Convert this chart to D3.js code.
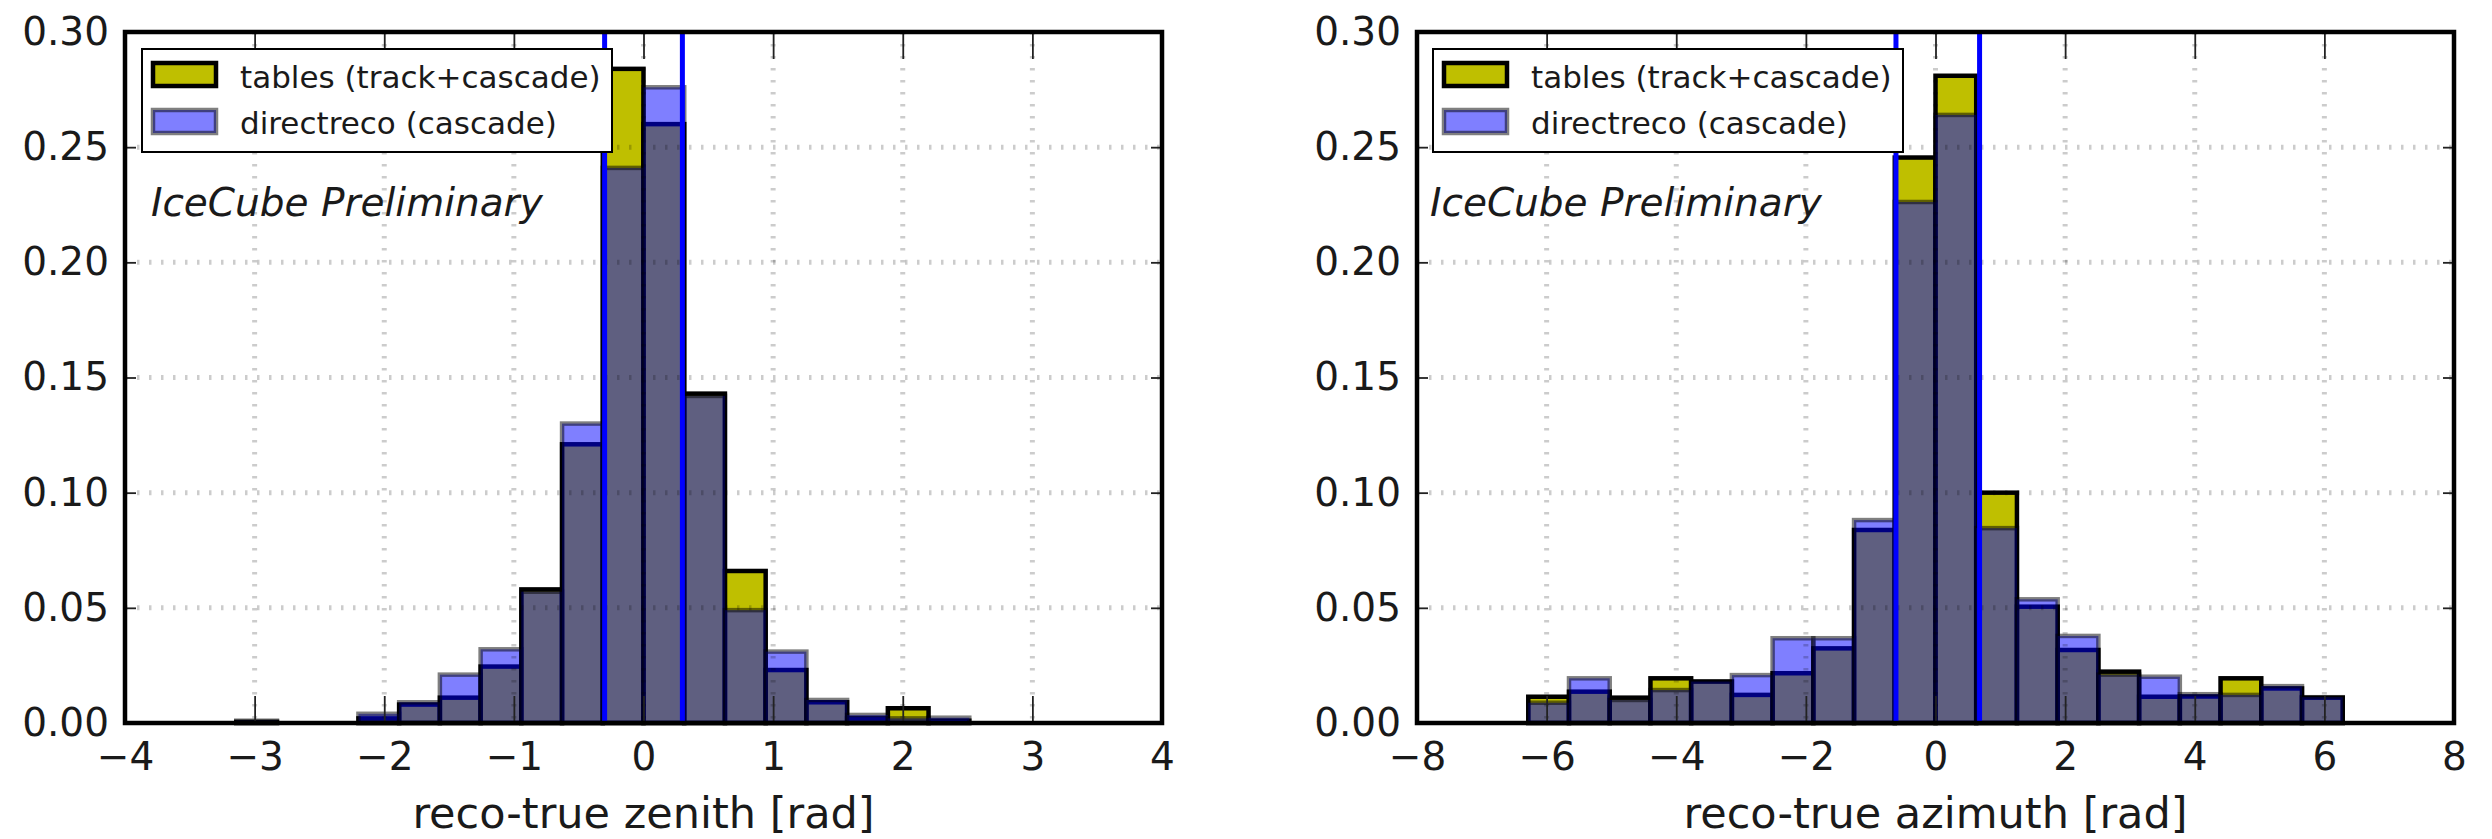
<!DOCTYPE html>
<html>
<head>
<meta charset="utf-8">
<script src="https://cdnjs.cloudflare.com/ajax/libs/d3/7.8.5/d3.min.js"></script>
<style>
  html, body { margin: 0; padding: 0; background: #fff; }
  svg { display: block; font-family: 'DejaVu Sans', sans-serif; }
</style>
</head>
<body>
<div id="chart"></div>
<script>
// bin edges (rad)
const zenithEdges = [-3.1416, -2.8274, -2.5133, -2.1991, -1.8850, -1.5708, -1.2566, -0.9425, -0.6283, -0.3142,
  0, 0.3142, 0.6283, 0.9425, 1.2566, 1.5708, 1.8850, 2.1991, 2.5133, 2.8274, 3.1416];
const zenithTables = [0.0005, 0, 0, 0.002, 0.008, 0.011, 0.0245, 0.058, 0.121, 0.284,
  0.260, 0.143, 0.066, 0.023, 0.009, 0.002, 0.0064, 0.001, 0, 0];
const zenithDirectreco = [0.001, 0, 0, 0.004, 0.009, 0.021, 0.032, 0.057, 0.130, 0.241,
  0.276, 0.142, 0.049, 0.031, 0.010, 0.0035, 0.002, 0.0023, 0, 0];
const zenithLines = [-0.30, 0.30];
const zenithTicks = [-4, -3, -2, -1, 0, 1, 2, 3, 4];

const azimuthEdges = [-6.2832, -5.6549, -5.0265, -4.3982, -3.7699, -3.1416, -2.5133, -1.8850, -1.2566, -0.6283,
  0, 0.6283, 1.2566, 1.8850, 2.5133, 3.1416, 3.7699, 4.3982, 5.0265, 5.6549, 6.2832];
const azimuthTables = [0.0114, 0.0136, 0.011, 0.0194, 0.018, 0.0122, 0.0216, 0.0324, 0.0838, 0.2455,
  0.281, 0.100, 0.0505, 0.0317, 0.0223, 0.0114, 0.0115, 0.0194, 0.015, 0.011];
const azimuthDirectreco = [0.0088, 0.0194, 0.010, 0.0143, 0.018, 0.0208, 0.0368, 0.0368, 0.0881, 0.2262,
  0.264, 0.0846, 0.0537, 0.0378, 0.021, 0.0201, 0.0125, 0.0122, 0.016, 0.0112];
const azimuthLines = [-0.61, 0.68];
const azimuthTicks = [-8, -6, -4, -2, 0, 2, 4, 6, 8];

const yTicks = [0, 0.05, 0.10, 0.15, 0.20, 0.25, 0.30];
const legendLabels = ['tables (track+cascade)', 'directreco (cascade)'];
const watermark = 'IceCube Preliminary';

const panels = [
  { left: 125, edges: zenithEdges, tables: zenithTables, reco: zenithDirectreco, lines: zenithLines,
    ticks: zenithTicks, label: 'reco-true zenith [rad]', textAt: [-3.8, 0.22], legendX: 17 },
  { left: 1417, edges: azimuthEdges, tables: azimuthTables, reco: azimuthDirectreco, lines: azimuthLines,
    ticks: azimuthTicks, label: 'reco-true azimuth [rad]', textAt: [-7.8, 0.22], legendX: 16 }
];

const plotWidth = 1037, plotHeight = 691, plotTop = 32;

const svg = d3.select('#chart').append('svg')
  .attr('width', 2492)
  .attr('height', 839);

svg.append('rect').attr('width', 2492).attr('height', 839).attr('fill', '#fff');

panels.forEach(p => {
  const g = svg.append('g').attr('transform', `translate(${p.left},${plotTop})`);

  const x = d3.scaleLinear().domain(d3.extent(p.ticks)).range([0, plotWidth]);
  const y = d3.scaleLinear().domain([0, 0.30]).range([plotHeight, 0]);
  const bins = p.edges.slice(0, -1).map((e, i) => ({ x0: e, x1: p.edges[i + 1], t: p.tables[i], r: p.reco[i] }));

  // tables histogram
  g.selectAll('.tables')
    .data(bins)
    .enter().append('rect')
    .attr('x', d => x(d.x0))
    .attr('y', d => y(d.t))
    .attr('width', d => x(d.x1) - x(d.x0))
    .attr('height', d => plotHeight - y(d.t))
    .attr('fill', '#bfbf00')
    .attr('stroke', '#000')
    .attr('stroke-width', 4.5);

  // directreco histogram, half transparent
  g.selectAll('.reco')
    .data(bins)
    .enter().append('rect')
    .attr('x', d => x(d.x0))
    .attr('y', d => y(d.r))
    .attr('width', d => x(d.x1) - x(d.x0))
    .attr('height', d => plotHeight - y(d.r))
    .attr('fill', '#0000ff')
    .attr('fill-opacity', 0.5)
    .attr('stroke', '#000')
    .attr('stroke-opacity', 0.5)
    .attr('stroke-width', 4.5);

  // dotted grid (black, faint, drawn over the bars)
  g.append('g')
    .selectAll('line')
    .data(p.ticks.slice(1, -1))
    .enter().append('line')
    .attr('x1', d => x(d)).attr('x2', d => x(d))
    .attr('y1', 0).attr('y2', plotHeight)
    .attr('stroke', '#000').attr('stroke-opacity', 0.2).attr('stroke-width', 5)
    .attr('stroke-dasharray', '2.5,9.5');
  g.append('g')
    .selectAll('line')
    .data(yTicks.slice(1, -1))
    .enter().append('line')
    .attr('x1', 0).attr('x2', plotWidth)
    .attr('y1', d => y(d)).attr('y2', d => y(d))
    .attr('stroke', '#000').attr('stroke-opacity', 0.2).attr('stroke-width', 5)
    .attr('stroke-dasharray', '2.5,9.5');

  // containment lines
  g.selectAll('.vline')
    .data(p.lines)
    .enter().append('line')
    .attr('x1', d => x(d)).attr('x2', d => x(d))
    .attr('y1', 0).attr('y2', plotHeight)
    .attr('stroke', '#0000ff')
    .attr('stroke-width', 5);

  // ticks on all four sides, pointing inwards
  g.append('g')
    .attr('transform', `translate(0,${plotHeight})`)
    .call(d3.axisBottom(x).tickValues(p.ticks).tickSize(-27).tickPadding(19)
      .tickFormat(d => d < 0 ? '\u2212' + Math.abs(d) : d));
  g.append('g')
    .call(d3.axisTop(x).tickValues(p.ticks).tickSize(-27).tickFormat(''));
  g.append('g')
    .call(d3.axisLeft(y).tickValues(yTicks).tickSize(-11).tickPadding(16).tickFormat(d3.format('.2f')));
  g.append('g')
    .attr('transform', `translate(${plotWidth},0)`)
    .call(d3.axisRight(y).tickValues(yTicks).tickSize(-11).tickFormat(''));

  g.selectAll('.domain').remove();
  g.selectAll('.tick line').attr('stroke', '#222').attr('stroke-width', 1.8);
  g.selectAll('.tick text').attr('fill', '#1a1a1a').style('font-size', '39px')
    .style('font-family', "'DejaVu Sans', sans-serif");

  // frame
  g.append('rect')
    .attr('width', plotWidth).attr('height', plotHeight)
    .attr('fill', 'none').attr('stroke', '#000').attr('stroke-width', 4.5);

  // watermark
  g.append('text')
    .attr('x', x(p.textAt[0])).attr('y', y(p.textAt[1]))
    .attr('font-style', 'italic')
    .style('font-size', '39px')
    .attr('fill', '#1a1a1a')
    .text(watermark);

  // legend
  const lg = g.append('g').attr('transform', `translate(${p.legendX},17)`);
  lg.append('rect').attr('width', 470).attr('height', 103)
    .attr('fill', '#fff').attr('stroke', '#000').attr('stroke-width', 2);
  lg.append('rect').attr('x', 11).attr('y', 14).attr('width', 63).attr('height', 23)
    .attr('fill', '#bfbf00').attr('stroke', '#000').attr('stroke-width', 4.5);
  lg.append('rect').attr('x', 11).attr('y', 61).attr('width', 63).attr('height', 23)
    .attr('fill', '#0000ff').attr('fill-opacity', 0.5)
    .attr('stroke', '#000').attr('stroke-opacity', 0.5).attr('stroke-width', 4.5);
  lg.selectAll('.lt')
    .data(legendLabels)
    .enter().append('text')
    .attr('x', 98)
    .attr('y', (d, i) => 28 + i * 46)
    .attr('dy', '0.35em')
    .style('font-size', '31px')
    .attr('fill', '#1a1a1a')
    .text(d => d);

  // axis label
  g.append('text')
    .attr('x', plotWidth / 2).attr('y', 796)
    .attr('text-anchor', 'middle')
    .style('font-size', '43px')
    .attr('fill', '#1a1a1a')
    .text(p.label);
});
</script>
</body>
</html>
